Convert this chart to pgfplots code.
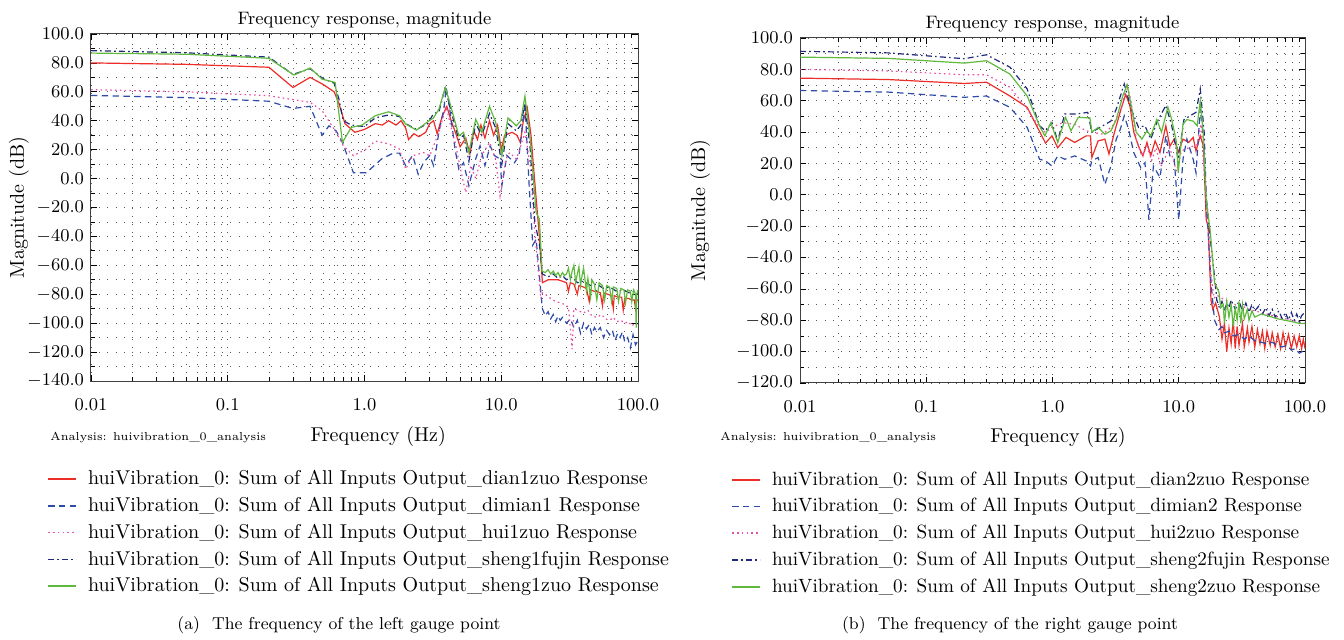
\documentclass[border=0pt]{standalone}
\usepackage{pgfplots}
\pgfplotsset{compat=1.18}
\definecolor{cred}{RGB}{236,45,40}
\definecolor{cblue}{RGB}{45,75,170}
\definecolor{cpink}{RGB}{232,80,165}
\definecolor{cnavy}{RGB}{30,40,125}
\definecolor{cgreen}{RGB}{95,185,60}
\begin{document}
\begin{tikzpicture}
\useasboundingbox (0pt,0pt) rectangle (672pt,-320pt);
% ---------------- left panel ----------------
\begin{axis}[
  scale only axis,
  at={(45.5pt,-190.5pt)}, anchor=south west,
  width=273.5pt, height=173.5pt,
  xmode=log, xmin=0.01, xmax=100,
  xtick={0.01,0.1,1,10,100},
  xticklabels={0.01,0.1,1.0,10.0,100.0},
  ymin=-140, ymax=100, ytick={-140,-120,...,100},
  grid=both,
  major grid style={black!65, dash pattern=on 0.5pt off 3.6pt},
  minor grid style={black!65, dash pattern=on 0.5pt off 3.6pt},
  minor y tick num=1,
  tick style={black, line width=0.4pt},
  major tick length=3pt, minor tick length=2pt,
  axis line style={black!75, line width=0.5pt},
  yticklabel style={/pgf/number format/fixed, /pgf/number format/fixed zerofill, /pgf/number format/precision=1},
  xticklabel style={yshift=-5pt},
  tick label style={font=\fontsize{9}{10}\selectfont},
  label style={font=\fontsize{10}{12}\selectfont},
  title style={font=\fontsize{9}{11}\selectfont, at={(axis description cs:0.5,1)}, anchor=base, yshift=-1.5pt},
  title={Frequency response, magnitude},
  xlabel={Frequency (Hz)},
  ylabel={Magnitude (dB)},
  xlabel style={at={(axis description cs:0.525,-0.161)}, anchor=center},
  ylabel style={at={(axis description cs:-0.132,0.5)}, anchor=center},
  legend cell align=left,
  legend image code/.code={\draw[#1, line width=0.8pt] (0pt,0pt) -- (14pt,0pt);},
  legend style={draw=none, fill=none, inner sep=0pt, nodes={inner sep=0pt}, font=\fontsize{10}{12}\selectfont, row sep=4.7pt, column sep=5.5pt, at={(axis description cs:-0.0804,-0.257)}, anchor=north west},
]
\addplot[cred, line width=0.6pt] coordinates {(0.01,80) (0.05,79) (0.2,77) (0.3,63) (0.4,70) (0.5,65) (0.6,60) (0.65,52) (0.72,38) (0.85,32) (1.0,34) (1.2,38) (1.35,37) (1.5,40) (1.7,37) (1.85,40) (2.0,35) (2.1,27) (2.3,31) (2.5,29) (2.8,32) (3.0,38) (3.2,40) (3.4,31) (3.7,43) (4.0,50) (4.3,40) (4.7,30) (5.0,22) (5.5,28) (5.9,17) (6.3,33) (6.7,27) (7.1,37) (7.6,28) (8.2,40) (8.8,30) (9.4,37) (10.0,20) (10.6,30) (11.3,31) (12.0,32) (13.0,30) (13.8,25) (14.5,40) (15.5,49) (16.5,30) (17.5,0) (19,-40) (20,-72) (22,-70) (24,-70) (26,-70) (28,-71) (30,-72) (31,-78) (32,-72) (34,-73) (36,-80) (37,-74) (40,-75) (42,-76) (44,-85) (45,-77) (48,-78) (50,-78) (53,-79) (55,-88) (56,-79) (60,-80) (64,-81) (66,-90) (67,-81) (72,-82) (76,-82) (78,-91) (80,-83) (86,-83) (90,-84) (94,-84) (96,-90) (98,-84) (100,-84)};
\addlegendentry{huiVibration\_0: Sum of All Inputs Output\_dian1zuo Response}
\addplot[cblue, line width=0.6pt, dash pattern=on 3.2pt off 2.2pt] coordinates {(0.01,57.5) (0.05,56) (0.2,53.5) (0.3,48.5) (0.4,50) (0.49,30) (0.55,36.5) (0.62,33) (0.69,25) (0.83,4) (1.03,4) (1.33,13.5) (1.62,17.6) (1.8,17.6) (2.0,9) (2.25,16) (2.47,3) (2.7,11) (3.0,16) (3.2,9) (3.5,32) (3.8,48) (3.96,63) (4.2,48) (4.6,20) (4.9,6.5) (5.3,11) (5.8,-5) (6.5,13.5) (7.0,22.7) (7.6,9) (8.3,22.7) (8.9,16) (9.8,13.5) (10.1,-5) (11.0,16) (12.5,11) (13.5,16) (14.9,52.7) (16,-5) (17,-46) (18,-42) (19.5,-79) (20,-90) (21,-95) (22,-92) (23,-97) (24,-94) (25,-99) (26,-95) (27,-98) (28,-96) (30,-100) (32,-97) (34,-103) (36,-98) (38,-107) (40,-100) (42,-104) (44,-101) (46,-108) (48,-103) (50,-106) (53,-103) (56,-110) (59,-105) (62,-108) (65,-105) (68,-112) (71,-107) (74,-110) (77,-106) (80,-113) (84,-110) (88,-117) (92,-108) (96,-115) (100,-112)};
\addlegendentry{huiVibration\_0: Sum of All Inputs Output\_dimian1 Response}
\addplot[cpink, line width=0.6pt, dash pattern=on 0.8pt off 1.6pt] coordinates {(0.01,61.5) (0.05,60) (0.2,57.3) (0.4,52.7) (0.49,47) (0.62,32) (0.7,22.7) (0.83,15.8) (1.03,20.4) (1.2,26) (1.5,24) (1.8,20.4) (2.0,6.5) (2.25,15.8) (2.7,18) (3.0,15.8) (3.5,32) (3.96,50) (4.2,39) (4.6,25) (5.1,4) (5.5,-9.6) (6.0,9) (6.5,0) (7.2,16) (8.2,25) (9.1,13.5) (9.8,-12) (10.8,13.5) (11.5,18) (12.9,13.5) (13.9,22.7) (14.9,32) (16.3,9) (17.6,-37) (19.5,-83) (20,-79) (21,-80) (23,-83) (25,-85) (27,-86) (29,-87) (31,-89) (33,-118) (34,-90) (36,-91) (38,-92) (40,-93) (43,-91) (46,-95) (50,-96) (54,-94) (58,-97) (62,-98) (66,-96) (70,-99) (75,-98) (80,-100) (85,-99) (90,-102) (95,-100) (100,-102)};
\addlegendentry{huiVibration\_0: Sum of All Inputs Output\_hui1zuo Response}
\addplot[cnavy, line width=0.6pt, dash pattern=on 3pt off 1.6pt on 0.8pt off 1.6pt] coordinates {(0.01,88.5) (0.05,87) (0.2,84) (0.3,72) (0.4,76) (0.5,69) (0.6,66) (0.65,55) (0.7,40) (0.8,37) (1.0,36) (1.2,42) (1.5,44) (1.8,43) (2.0,38) (2.4,34) (2.9,38) (3.2,45) (3.5,46) (3.9,63.5) (4.2,50) (4.9,27) (5.3,30) (5.8,12) (6.5,38) (7.2,30) (8.2,45) (9.1,35) (10.1,10) (11.2,38) (12.9,33) (13.9,37) (14.9,52) (16.3,20) (17.6,-30) (19,-45) (20,-66) (22,-68) (24,-66) (26,-69) (28,-67) (30,-70) (33,-68) (36,-72) (40,-71) (45,-74) (50,-73) (56,-76) (62,-75) (70,-78) (78,-77) (86,-79) (93,-78) (100,-80)};
\addlegendentry{huiVibration\_0: Sum of All Inputs Output\_sheng1fujin Response}
\addplot[cgreen, line width=0.6pt] coordinates {(0.01,86.8) (0.05,86) (0.2,83.2) (0.305,71.6) (0.4,76.5) (0.49,68.8) (0.61,66.5) (0.69,25) (0.8,35.4) (0.96,37) (1.2,43.5) (1.5,46.2) (1.8,43.5) (2.0,37.7) (2.4,33.5) (2.9,39.3) (3.2,42) (3.5,48) (3.9,63) (4.2,52.7) (4.9,29.6) (5.3,32) (5.8,18) (6.5,41) (7.2,32) (8.2,50) (9.1,39) (10.1,16) (11.2,42) (12.9,36.5) (13.9,40) (14.9,57) (16.3,27) (18,-23.5) (19,-28) (19.9,-64) (21,-65) (22,-63) (23,-66) (24,-64) (25,-67) (26,-65) (27,-68) (28,-65) (29,-67) (30,-66) (31,-62) (32,-70) (33,-64) (34,-60) (35,-72) (36,-66) (37,-61) (38,-74) (39,-67) (40,-62) (42,-78) (43,-69) (45,-82) (46,-70) (48,-73) (50,-84) (52,-72) (55,-74) (57,-84) (59,-74) (62,-75) (64,-85) (66,-75) (70,-76) (72,-85) (75,-76) (79,-77) (81,-86) (84,-77) (88,-78) (90,-85) (93,-77) (96,-80) (97,-103) (98,-80) (100,-77)};
\addlegendentry{huiVibration\_0: Sum of All Inputs Output\_sheng1zuo Response}
\end{axis}
% ---------------- right panel ----------------
\begin{axis}[
  scale only axis,
  at={(400pt,-191.5pt)}, anchor=south west,
  width=252.5pt, height=172.5pt,
  xmode=log, xmin=0.01, xmax=100,
  xtick={0.01,0.1,1,10,100},
  xticklabels={0.01,0.1,1.0,10.0,100.0},
  ymin=-120, ymax=100, ytick={-120,-100,...,100},
  grid=both,
  major grid style={black!65, dash pattern=on 0.5pt off 3.6pt},
  minor grid style={black!65, dash pattern=on 0.5pt off 3.6pt},
  minor y tick num=1,
  tick style={black, line width=0.4pt},
  major tick length=3pt, minor tick length=2pt,
  axis line style={black!75, line width=0.5pt},
  yticklabel style={/pgf/number format/fixed, /pgf/number format/fixed zerofill, /pgf/number format/precision=1},
  xticklabel style={yshift=-5pt},
  tick label style={font=\fontsize{9}{10}\selectfont},
  label style={font=\fontsize{10}{12}\selectfont},
  title style={font=\fontsize{9}{11}\selectfont, at={(axis description cs:0.5,1)}, anchor=base, yshift=-1.5pt},
  title={Frequency response, magnitude},
  xlabel={Frequency (Hz)},
  ylabel={Magnitude (dB)},
  xlabel style={at={(axis description cs:0.511,-0.157)}, anchor=center},
  ylabel style={at={(axis description cs:-0.198,0.5)}, anchor=center},
  legend cell align=left,
  legend image code/.code={\draw[#1, line width=0.8pt] (0pt,0pt) -- (14pt,0pt);},
  legend style={draw=none, fill=none, inner sep=0pt, nodes={inner sep=0pt}, font=\fontsize{9.6}{11.5}\selectfont, row sep=5pt, column sep=5.5pt, at={(axis description cs:-0.1366,-0.255)}, anchor=north west},
]
\addplot[cred, line width=0.6pt] coordinates {(0.01,74.4) (0.05,73.5) (0.2,71) (0.3,71.8) (0.46,63) (0.63,55.8) (0.88,33) (0.99,37.6) (1.1,30) (1.28,36.6) (1.5,33.4) (1.85,37.6) (2.0,37.6) (2.05,23.8) (2.3,34.4) (2.6,35.5) (2.8,26) (3.1,40) (3.5,55) (3.8,64) (4.1,57) (4.4,40) (4.8,31) (5.2,24.8) (5.6,33.4) (6.0,24.8) (6.5,34.4) (7.1,27) (7.9,44) (8.5,31) (9.2,35.5) (9.9,27) (10.8,35.5) (12.0,33.4) (13.0,36.6) (13.7,28) (14.8,37.6) (15.7,31) (16.5,-16) (17.1,-20) (18.0,-67) (18.6,-73) (19.6,-69) (21,-78) (22,-92) (23,-82) (24,-100) (25,-85) (26,-95) (27,-80) (28,-98) (29,-84) (30,-96) (32,-82) (33,-97) (35,-85) (36,-94) (38,-84) (40,-97) (42,-86) (44,-95) (46,-87) (48,-98) (50,-87) (53,-96) (55,-88) (58,-97) (61,-89) (64,-98) (67,-88) (70,-97) (74,-89) (78,-98) (82,-90) (86,-97) (90,-90) (94,-98) (97,-92) (100,-98)};
\addlegendentry{huiVibration\_0: Sum of All Inputs Output\_dian2zuo Response}
\addplot[cblue, line width=0.6pt, dash pattern=on 3.2pt off 2.2pt] coordinates {(0.01,66.5) (0.05,65.5) (0.2,62.2) (0.3,63) (0.46,55.8) (0.63,43) (0.79,22.7) (0.88,21.6) (0.99,18.4) (1.1,24.8) (1.25,22.7) (1.5,24.8) (1.85,21.6) (2.0,18.4) (2.05,21.6) (2.3,23.8) (2.6,6.6) (2.9,18.4) (3.2,35.5) (3.45,42) (3.7,50.4) (4.0,42) (4.4,27) (5.0,17.3) (5.4,20.5) (5.8,-16) (6.3,18.4) (7.1,11) (7.9,37.6) (8.5,24.8) (9.2,22.7) (10.0,-16) (10.8,22.7) (11.6,35.5) (13.0,22.7) (13.7,14) (14.8,55) (15.7,35.5) (16.5,-7) (17.1,-24) (18,-56) (19.2,-80) (20.8,-86) (22,-84) (23,-88) (25,-87) (27,-90) (30,-89) (33,-92) (36,-90) (40,-93) (45,-94) (50,-95) (55,-94) (60,-96) (66,-97) (72,-96) (78,-99) (84,-98) (90,-101) (95,-100) (100,-101)};
\addlegendentry{huiVibration\_0: Sum of All Inputs Output\_dimian2 Response}
\addplot[cpink, line width=0.6pt, dash pattern=on 0.8pt off 1.6pt] coordinates {(0.01,80) (0.05,79) (0.2,76.5) (0.3,76.5) (0.46,68.6) (0.63,54.7) (0.79,43) (0.88,39.8) (0.99,43) (1.2,46) (1.5,45) (1.85,40.8) (2.05,40) (2.5,38.7) (3.0,44) (3.5,55) (3.9,70.7) (4.2,59) (4.6,35.5) (5.1,24.8) (5.6,31) (6.1,22) (6.6,30) (7.2,18) (8.5,30) (9.6,15) (10.5,28) (12,30) (14,32) (15,45) (16,10) (17,-20) (18,-50) (19,-66) (20,-64) (22,-66) (25,-68) (28,-70) (32,-71) (36,-73) (40,-74) (50,-76) (60,-78) (70,-79) (80,-80) (90,-81) (100,-82)};
\addlegendentry{huiVibration\_0: Sum of All Inputs Output\_hui2zuo Response}
\addplot[cnavy, line width=0.6pt, dash pattern=on 3pt off 1.6pt on 0.8pt off 1.6pt] coordinates {(0.01,91.5) (0.05,90.5) (0.2,86.8) (0.3,89.3) (0.46,81.4) (0.63,67.5) (0.79,44) (0.88,40.8) (0.99,46) (1.1,34.4) (1.25,51.5) (1.55,51.5) (1.9,52.6) (2.05,40) (2.5,44) (2.9,47) (3.2,54.7) (3.7,70.7) (4.2,54.7) (4.8,43) (5.4,44) (6.0,35.5) (6.7,46) (7.9,57) (8.8,44) (9.9,22.7) (11,48) (12.3,50.4) (13.7,52.6) (14.8,67.5) (15.9,40) (16.5,-1) (17.8,-28.6) (19.2,-52) (20,-67) (21,-72) (22,-68) (23,-74) (24,-69) (25,-72) (26,-67) (28,-73) (30,-68) (32,-74) (34,-69) (36,-75) (38,-70) (40,-74) (43,-71) (46,-76) (49,-72) (52,-77) (55,-73) (58,-78) (62,-74) (66,-79) (70,-75) (74,-80) (78,-75) (82,-80) (86,-76) (90,-81) (94,-77) (97,-76) (100,-78)};
\addlegendentry{huiVibration\_0: Sum of All Inputs Output\_sheng2fujin Response}
\addplot[cgreen, line width=0.6pt] coordinates {(0.01,87.8) (0.05,87) (0.2,84) (0.3,85.5) (0.46,77) (0.63,63) (0.79,44) (0.87,37.6) (0.97,46) (1.1,33.4) (1.27,49.4) (1.4,40.8) (1.6,49.4) (1.98,49) (2.05,40) (2.3,43) (2.6,38.7) (2.9,40.8) (3.2,48) (3.6,63) (3.9,70) (4.2,57) (4.6,40) (5.1,35.5) (5.6,40.8) (6.0,37.6) (6.7,48) (7.3,40) (8.2,56) (8.8,48) (9.6,33.4) (9.9,14) (10.8,45) (11.6,48) (13.0,47) (14.0,44) (14.8,60) (15.6,40) (16.5,-3) (17.8,-24) (19.2,-56) (20.8,-62) (21.5,-72) (22.5,-70) (23,-82) (24,-68) (25,-78) (26,-70) (27,-84) (28,-72) (29,-80) (30,-68) (31,-82) (32,-70) (33,-79) (35,-73) (36,-80) (38,-74) (40,-78) (45,-76) (50,-77) (55,-78) (60,-79) (70,-80) (80,-81) (90,-82) (100,-82)};
\addlegendentry{huiVibration\_0: Sum of All Inputs Output\_sheng2zuo Response}
\end{axis}
% ---------------- extra texts ----------------
\node[anchor=west, font=\fontsize{5.8}{7}\selectfont, inner sep=0pt] at (25pt,-219pt) {Analysis: huivibration\_0\_analysis};
\node[anchor=west, font=\fontsize{5.8}{7}\selectfont, inner sep=0pt] at (360pt,-219pt) {Analysis: huivibration\_0\_analysis};
\node[font=\fontsize{8.6}{10}\selectfont, inner sep=0pt] at (169.5pt,-312.5pt) {(a)\hspace{0.7em}The frequency of the left gauge point};
\node[font=\fontsize{8.6}{10}\selectfont, inner sep=0pt] at (505pt,-312.5pt) {(b)\hspace{0.7em}The frequency of the right gauge point};
\end{tikzpicture}
\end{document}
